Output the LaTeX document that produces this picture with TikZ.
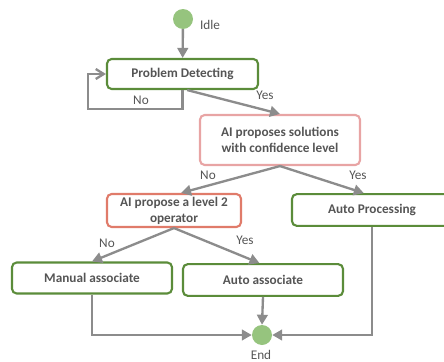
\documentclass[tikz,border=0pt]{standalone}
\usepackage{fontspec}
\setmainfont{Carlito}
\usepackage{xcolor}
\usetikzlibrary{arrows.meta, positioning}

\definecolor{boxgreen}{HTML}{5B8C3A}
\definecolor{dotgreen}{HTML}{96C47E}
\definecolor{boxpink}{HTML}{E8A4A4}
\definecolor{boxsalmon}{HTML}{E07B6A}
\definecolor{linegray}{HTML}{8C8C8C}
\definecolor{textgray}{HTML}{555555}

\begin{document}
\begin{tikzpicture}[x=0.03cm, y=-0.03cm,
	stepbox/.style={draw=boxgreen, line width=1.8pt, rounded corners=4pt, fill=white,
		text=textgray, font=\fontsize{11.3}{13.5}\selectfont\bfseries, align=center,
		minimum width=4.8cm, minimum height=0.95cm, inner sep=2pt},
	askbox/.style={stepbox, draw=boxpink},
	dot/.style={circle, fill=dotgreen, minimum size=0.6cm, inner sep=0pt},
	flow/.style={draw=linegray, line width=2pt, -{Triangle[length=3mm, width=3.2mm]}},
	tag/.style={text=textgray, font=\fontsize{11.3}{13.5}\selectfont}]
	
	\useasboundingbox (0,0) rectangle (444,362);
	
	%% Nos do fluxo
	\node [dot] (idle) at (183,19) {};
	\node [tag, right] at (196,25) {Idle};
	
	\node [stepbox, minimum width=4.53cm, minimum height=0.9cm] (detect) at (182.5,74) {Problem Detecting};
	\node [askbox, minimum height=1.5cm] (propose) at (280,140) {AI proposes solutions\\with confidence level};
	\node [askbox, draw=boxsalmon, minimum width=4.02cm, minimum height=0.99cm] (level) at (174,210.5) {AI propose a level 2\\operator};
	\node [stepbox] (autoproc) at (372,210) {Auto Processing};
	\node [stepbox, minimum height=0.93cm] (manual) at (92,278) {Manual associate};
	\node [stepbox] (autoassoc) at (263,280) {Auto associate};
	
	\node [dot] (endnode) at (262,335) {};
	\node [tag] at (261,355) {End};
	
	%% Laco de espera
	\coordinate (loopcorner) at (88,109);
	\draw [flow, -{Straight Barb[length=2.4mm, width=3mm]}] (detect.south) |- (loopcorner) |- (detect.west);
	\node [tag] at (141,100) {No};
	
	%% Decisoes
	\draw [flow] (idle) -- (detect);
	\draw [flow] ([xshift=4pt]detect.south) -- (propose.north);
	\node [tag] at (265,95) {Yes};
	
	\draw [flow] (propose.south) -- ([xshift=6pt]level.north);
	\node [tag] at (208,175) {No};
	\draw [flow] (propose.south) -- ([xshift=-7pt]autoproc.north);
	\node [tag] at (358,175) {Yes};
	
	\draw [flow] (level.south) -- (manual.north);
	\node [tag] at (107,243) {No};
	\draw [flow] (level.south) -- ([xshift=-3pt]autoassoc.north);
	\node [tag] at (245,240) {Yes};
	
	%% Chegada ao fim
	\draw [flow] (manual.south) |- (endnode.west);
	\draw [flow] (autoassoc.south) -- (endnode.north);
	\draw [flow] (autoproc.south) |- (endnode.east);
\end{tikzpicture}
\end{document}
